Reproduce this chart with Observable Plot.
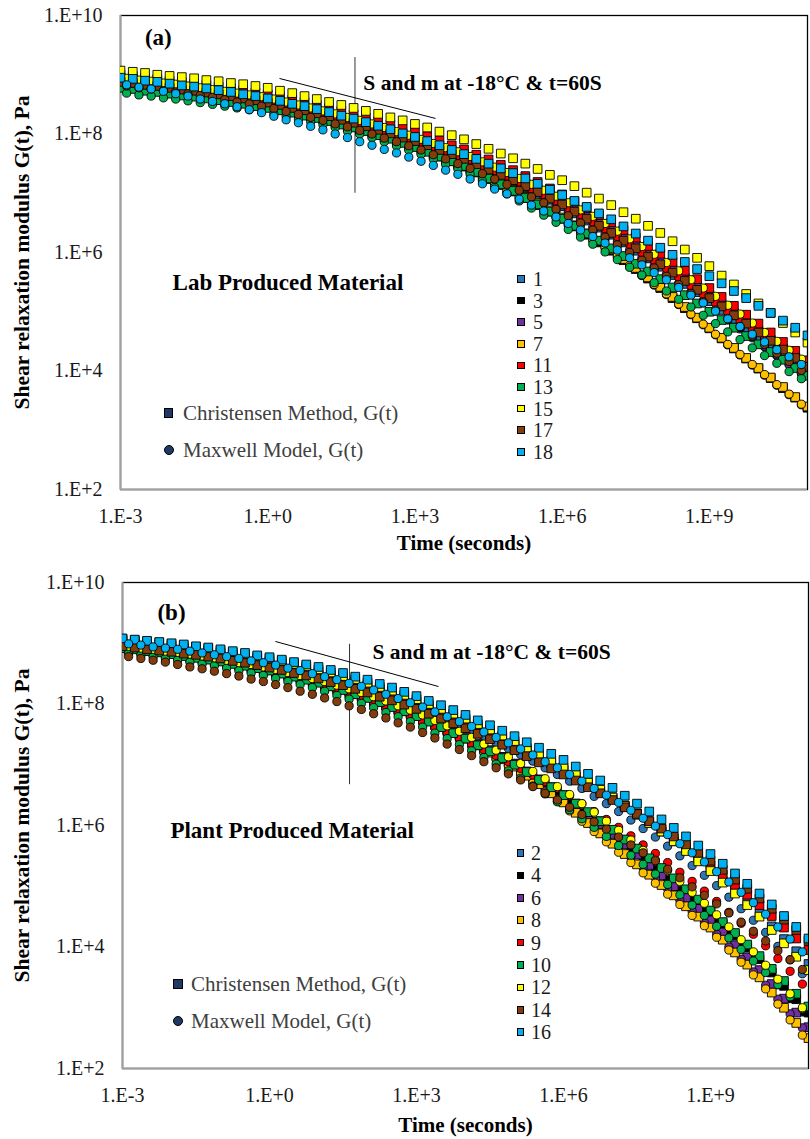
<!DOCTYPE html>
<html><head><meta charset="utf-8">
<script src="https://cdn.jsdelivr.net/npm/d3@7"></script>
<script src="https://cdn.jsdelivr.net/npm/@observablehq/plot@0.6"></script>
<style>
body{margin:0;background:#fff;}
#wrap{position:relative;width:810px;height:1139px;overflow:hidden;font-family:"Liberation Serif","Times New Roman",serif;background:#fff;}
.panel{position:absolute;left:0;}
.row{position:absolute;display:flex;align-items:center;white-space:nowrap;line-height:1;}
.sq{display:inline-block;box-sizing:border-box;border:1px solid #000;}
</style></head><body>
<div id="wrap"><div id="pa" class="panel" style="top:0px"></div><div id="pb" class="panel" style="top:567px"></div></div>
<script>
// ---------- axes ----------
const xTicks = [1e-3, 1e0, 1e3, 1e6, 1e9];
const xTickLabels = ["1.E-3", "1.E+0", "1.E+3", "1.E+6", "1.E+9"];
const yTicks = [1e2, 1e4, 1e6, 1e8, 1e10];
const yTickLabels = ["1.E+2", "1.E+4", "1.E+6", "1.E+8", "1.E+10"];
const xTitle = "Time (seconds)";
const yTitle = "Shear relaxation modulus G(t), Pa";
const methodNames = ["Christensen Method, G(t)", "Maxwell Model, G(t)"];

// ---------- time stamps (log10 seconds) ----------
const logTimeC = [-3,-2.75,-2.5,-2.25,-2,-1.75,-1.5,-1.25,-1,-0.75,-0.5,-0.25,0,0.25,0.5,0.75,1,1.25,1.5,1.75,2,2.25,2.5,2.75,3,3.25,3.5,3.75,4,4.25,4.5,4.75,5,5.25,5.5,5.75,6,6.25,6.5,6.75,7,7.25,7.5,7.75,8,8.25,8.5,8.75,9,9.25,9.5,9.75,10,10.25,10.5,10.75,11];
const logTimeM = [-2.875,-2.625,-2.375,-2.125,-1.875,-1.625,-1.375,-1.125,-0.875,-0.625,-0.375,-0.125,0.125,0.375,0.625,0.875,1.125,1.375,1.625,1.875,2.125,2.375,2.625,2.875,3.125,3.375,3.625,3.875,4.125,4.375,4.625,4.875,5.125,5.375,5.625,5.875,6.125,6.375,6.625,6.875,7.125,7.375,7.625,7.875,8.125,8.375,8.625,8.875,9.125,9.375,9.625,9.875,10.125,10.375,10.625,10.875];

// ---------- panel (a): log10 G(t), Christensen (C) and Maxwell (M) ----------
const a1C=[8.93,8.90,8.88,8.85,8.82,8.79,8.76,8.73,8.70,8.66,8.63,8.59,8.55,8.50,8.46,8.41,8.36,8.30,8.25,8.19,8.13,8.07,8.00,7.94,7.87,7.79,7.72,7.64,7.56,7.47,7.38,7.29,7.20,7.10,6.99,6.89,6.78,6.66,6.54,6.42,6.30,6.17,6.03,5.90,5.76,5.62,5.47,5.33,5.18,5.03,4.88,4.73,4.58,4.43,4.27,4.12,3.97];
const a1M=[8.85,8.82,8.79,8.76,8.72,8.69,8.65,8.62,8.58,8.54,8.50,8.46,8.41,8.36,8.31,8.26,8.20,8.14,8.08,8.02,7.96,7.89,7.82,7.75,7.68,7.60,7.53,7.45,7.37,7.28,7.19,7.10,7.00,6.90,6.79,6.69,6.58,6.46,6.35,6.23,6.11,5.98,5.85,5.72,5.58,5.44,5.29,5.15,5.01,4.86,4.71,4.56,4.41,4.26,4.11,3.96];
const a3C=[8.84,8.81,8.78,8.76,8.73,8.70,8.67,8.64,8.61,8.58,8.54,8.51,8.47,8.43,8.38,8.34,8.29,8.23,8.18,8.12,8.06,7.99,7.93,7.86,7.79,7.71,7.62,7.54,7.45,7.35,7.24,7.14,7.03,6.92,6.80,6.69,6.57,6.44,6.30,6.17,6.03,5.87,5.72,5.56,5.40,5.23,5.06,4.89,4.72,4.55,4.38,4.21,4.04,3.88,3.71,3.55,3.38];
const a3M=[8.79,8.76,8.73,8.70,8.68,8.65,8.62,8.59,8.55,8.52,8.48,8.45,8.41,8.36,8.32,8.27,8.22,8.16,8.11,8.05,7.99,7.92,7.85,7.78,7.71,7.62,7.53,7.44,7.35,7.24,7.14,7.03,6.92,6.81,6.70,6.59,6.46,6.33,6.20,6.07,5.92,5.76,5.61,5.45,5.29,5.12,4.95,4.78,4.61,4.44,4.27,4.10,3.93,3.76,3.60,3.43];
const a5C=[8.92,8.90,8.87,8.85,8.82,8.79,8.77,8.74,8.71,8.68,8.64,8.61,8.57,8.53,8.48,8.44,8.39,8.34,8.28,8.23,8.17,8.11,8.05,7.98,7.92,7.85,7.77,7.70,7.62,7.53,7.45,7.36,7.27,7.17,7.07,6.96,6.86,6.74,6.62,6.50,6.38,6.25,6.12,5.98,5.85,5.71,5.57,5.42,5.28,5.13,4.98,4.83,4.68,4.53,4.38,4.23,4.08];
const a5M=[8.85,8.82,8.80,8.77,8.75,8.72,8.69,8.66,8.62,8.59,8.55,8.52,8.48,8.43,8.38,8.33,8.28,8.22,8.17,8.11,8.05,7.98,7.92,7.85,7.78,7.71,7.63,7.56,7.48,7.39,7.30,7.21,7.11,7.00,6.90,6.79,6.68,6.56,6.43,6.31,6.18,6.04,5.91,5.77,5.63,5.48,5.33,5.18,5.03,4.88,4.73,4.58,4.42,4.27,4.11,3.96];
const a7C=[8.88,8.85,8.82,8.80,8.77,8.74,8.71,8.68,8.65,8.62,8.58,8.55,8.51,8.47,8.42,8.38,8.33,8.27,8.22,8.16,8.10,8.03,7.97,7.90,7.83,7.74,7.66,7.57,7.48,7.38,7.27,7.17,7.06,6.94,6.83,6.71,6.59,6.46,6.32,6.19,6.05,5.89,5.74,5.58,5.42,5.25,5.08,4.90,4.73,4.56,4.39,4.22,4.05,3.89,3.73,3.56,3.40];
const a7M=[8.84,8.81,8.78,8.75,8.73,8.70,8.67,8.64,8.60,8.57,8.53,8.50,8.46,8.41,8.37,8.32,8.27,8.21,8.16,8.10,8.03,7.96,7.89,7.82,7.74,7.65,7.56,7.47,7.37,7.26,7.16,7.05,6.94,6.83,6.72,6.61,6.48,6.35,6.22,6.09,5.94,5.78,5.62,5.46,5.30,5.13,4.96,4.79,4.62,4.45,4.28,4.11,3.94,3.77,3.61,3.44];
const a11C=[9.00,8.98,8.95,8.93,8.90,8.88,8.85,8.83,8.80,8.77,8.74,8.70,8.67,8.63,8.58,8.54,8.49,8.44,8.39,8.33,8.28,8.22,8.16,8.09,8.03,7.96,7.89,7.81,7.74,7.65,7.57,7.48,7.39,7.29,7.19,7.08,6.98,6.86,6.75,6.63,6.51,6.38,6.25,6.11,5.98,5.84,5.69,5.55,5.40,5.25,5.10,4.95,4.80,4.65,4.49,4.34,4.18];
const a11M=[8.89,8.86,8.84,8.81,8.79,8.76,8.73,8.70,8.67,8.64,8.60,8.57,8.53,8.48,8.44,8.39,8.34,8.29,8.23,8.18,8.12,8.06,7.99,7.93,7.86,7.79,7.71,7.64,7.56,7.47,7.38,7.29,7.19,7.08,6.98,6.87,6.76,6.64,6.52,6.40,6.27,6.14,6.00,5.87,5.73,5.58,5.44,5.29,5.15,5.00,4.85,4.70,4.54,4.39,4.23,4.08];
const a13C=[8.78,8.76,8.73,8.71,8.68,8.65,8.63,8.60,8.57,8.54,8.51,8.47,8.44,8.40,8.36,8.31,8.27,8.22,8.16,8.11,8.05,7.98,7.92,7.85,7.78,7.70,7.62,7.54,7.46,7.36,7.25,7.15,7.04,6.92,6.81,6.69,6.57,6.45,6.32,6.20,6.07,5.94,5.81,5.68,5.55,5.41,5.28,5.14,5.00,4.86,4.73,4.59,4.45,4.32,4.19,4.05,3.92];
const a13M=[8.69,8.66,8.64,8.61,8.59,8.56,8.53,8.50,8.47,8.44,8.41,8.38,8.34,8.30,8.25,8.21,8.16,8.11,8.05,8.00,7.94,7.87,7.80,7.73,7.66,7.58,7.49,7.41,7.32,7.21,7.10,6.99,6.87,6.75,6.63,6.51,6.39,6.26,6.14,6.01,5.88,5.75,5.62,5.49,5.35,5.21,5.08,4.94,4.80,4.66,4.53,4.39,4.26,4.13,3.99,3.87];
const a15C=[9.07,9.05,9.03,9.00,8.98,8.96,8.94,8.91,8.89,8.86,8.84,8.81,8.78,8.73,8.69,8.64,8.59,8.54,8.49,8.44,8.39,8.34,8.28,8.23,8.17,8.11,8.04,7.98,7.91,7.83,7.75,7.67,7.59,7.50,7.41,7.31,7.22,7.12,7.01,6.91,6.80,6.68,6.57,6.45,6.33,6.19,6.05,5.91,5.77,5.61,5.46,5.30,5.14,4.98,4.81,4.65,4.48];
const a15M=[8.94,8.91,8.89,8.86,8.84,8.81,8.78,8.75,8.72,8.69,8.66,8.63,8.59,8.54,8.49,8.44,8.39,8.34,8.28,8.23,8.17,8.11,8.04,7.98,7.91,7.84,7.77,7.70,7.62,7.53,7.44,7.35,7.25,7.15,7.05,6.95,6.84,6.72,6.61,6.49,6.36,6.23,6.10,5.97,5.83,5.69,5.54,5.40,5.26,5.11,4.96,4.81,4.65,4.50,4.35,4.20];
const a17C=[8.88,8.86,8.83,8.81,8.78,8.75,8.73,8.70,8.67,8.64,8.60,8.57,8.53,8.49,8.44,8.40,8.35,8.30,8.24,8.19,8.13,8.07,8.01,7.94,7.88,7.81,7.73,7.66,7.58,7.49,7.40,7.31,7.22,7.12,7.02,6.91,6.81,6.69,6.57,6.45,6.33,6.20,6.07,5.93,5.80,5.66,5.52,5.37,5.23,5.09,4.94,4.80,4.65,4.51,4.36,4.22,4.07];
const a17M=[8.81,8.78,8.76,8.73,8.71,8.68,8.65,8.62,8.58,8.54,8.51,8.47,8.43,8.38,8.33,8.28,8.23,8.17,8.12,8.06,8.00,7.93,7.87,7.80,7.73,7.65,7.58,7.50,7.42,7.33,7.24,7.15,7.05,6.94,6.84,6.73,6.62,6.50,6.38,6.26,6.13,6.00,5.87,5.74,5.60,5.46,5.31,5.17,5.03,4.88,4.74,4.59,4.45,4.30,4.16,4.01];
const a18C=[8.95,8.93,8.90,8.88,8.85,8.82,8.80,8.77,8.74,8.71,8.67,8.64,8.60,8.56,8.51,8.47,8.42,8.37,8.31,8.26,8.20,8.14,8.08,8.01,7.95,7.88,7.81,7.73,7.66,7.58,7.50,7.42,7.34,7.25,7.16,7.06,6.97,6.87,6.77,6.66,6.56,6.44,6.32,6.20,6.08,5.96,5.84,5.72,5.60,5.48,5.35,5.23,5.10,4.98,4.85,4.73,4.60];
const a18M=[8.83,8.79,8.76,8.72,8.68,8.64,8.59,8.55,8.51,8.46,8.41,8.36,8.30,8.24,8.19,8.13,8.07,8.00,7.94,7.87,7.81,7.74,7.68,7.61,7.54,7.47,7.39,7.32,7.24,7.16,7.07,6.99,6.90,6.80,6.70,6.60,6.49,6.38,6.27,6.16,6.04,5.91,5.79,5.66,5.54,5.41,5.28,5.15,5.01,4.88,4.75,4.62,4.49,4.36,4.24,4.11];

// ---------- panel (b) ----------
const b2C=[9.05,9.03,9.00,8.98,8.96,8.93,8.91,8.88,8.85,8.82,8.78,8.75,8.71,8.67,8.62,8.58,8.53,8.48,8.42,8.37,8.31,8.24,8.18,8.11,8.04,7.96,7.88,7.80,7.72,7.63,7.54,7.44,7.35,7.25,7.14,7.04,6.93,6.81,6.69,6.57,6.45,6.31,6.18,6.04,5.90,5.74,5.59,5.43,5.27,5.09,4.91,4.73,4.55,4.34,4.13,3.93,3.72];
const b2M=[8.97,8.94,8.92,8.89,8.87,8.84,8.81,8.78,8.75,8.71,8.68,8.64,8.60,8.55,8.51,8.46,8.41,8.35,8.30,8.24,8.18,8.11,8.04,7.97,7.89,7.81,7.72,7.64,7.55,7.46,7.36,7.27,7.17,7.06,6.95,6.84,6.73,6.61,6.48,6.36,6.23,6.09,5.95,5.81,5.66,5.50,5.34,5.18,5.01,4.82,4.63,4.44,4.24,4.01,3.79,3.56];
const b4C=[8.93,8.91,8.88,8.86,8.83,8.80,8.77,8.74,8.71,8.67,8.64,8.60,8.56,8.51,8.46,8.41,8.36,8.30,8.24,8.17,8.11,8.04,7.96,7.89,7.81,7.72,7.63,7.53,7.44,7.33,7.23,7.12,7.01,6.88,6.76,6.63,6.50,6.36,6.21,6.07,5.92,5.76,5.60,5.44,5.28,5.10,4.93,4.75,4.57,4.38,4.19,3.99,3.80,3.58,3.36,3.14,2.92];
const b4M=[8.86,8.83,8.81,8.78,8.76,8.73,8.70,8.67,8.63,8.59,8.56,8.52,8.48,8.43,8.38,8.33,8.27,8.21,8.14,8.08,8.01,7.94,7.86,7.79,7.70,7.61,7.52,7.43,7.33,7.22,7.11,7.00,6.88,6.75,6.62,6.49,6.36,6.21,6.07,5.92,5.77,5.61,5.44,5.28,5.11,4.93,4.76,4.58,4.39,4.20,4.00,3.81,3.60,3.38,3.15,2.93];
const b6C=[8.95,8.93,8.90,8.88,8.85,8.82,8.79,8.76,8.73,8.69,8.66,8.62,8.58,8.53,8.48,8.43,8.38,8.32,8.26,8.19,8.13,8.06,7.98,7.91,7.83,7.74,7.65,7.55,7.46,7.35,7.24,7.13,7.02,6.89,6.75,6.62,6.48,6.33,6.17,6.02,5.86,5.69,5.52,5.35,5.18,5.00,4.81,4.63,4.44,4.24,4.03,3.83,3.62,3.39,3.15,2.92,2.68];
const b6M=[8.89,8.86,8.84,8.81,8.79,8.76,8.73,8.70,8.66,8.62,8.58,8.54,8.50,8.45,8.40,8.35,8.29,8.22,8.16,8.09,8.02,7.94,7.87,7.79,7.70,7.61,7.51,7.42,7.31,7.20,7.09,6.98,6.85,6.71,6.58,6.44,6.29,6.13,5.98,5.82,5.65,5.48,5.31,5.14,4.96,4.77,4.59,4.40,4.21,4.00,3.80,3.59,3.37,3.14,2.90,2.67];
const b8C=[8.94,8.92,8.89,8.87,8.84,8.81,8.78,8.75,8.72,8.68,8.65,8.61,8.57,8.52,8.47,8.42,8.37,8.31,8.25,8.18,8.12,8.04,7.97,7.89,7.81,7.72,7.62,7.53,7.43,7.32,7.20,7.09,6.97,6.82,6.68,6.53,6.38,6.21,6.04,5.87,5.70,5.53,5.36,5.19,5.02,4.85,4.67,4.50,4.32,4.12,3.91,3.71,3.50,3.25,3.00,2.75,2.50];
const b8M=[8.89,8.86,8.84,8.81,8.79,8.76,8.73,8.70,8.66,8.62,8.59,8.55,8.51,8.46,8.41,8.36,8.30,8.24,8.17,8.11,8.04,7.96,7.89,7.81,7.72,7.62,7.53,7.43,7.32,7.21,7.09,6.98,6.85,6.70,6.55,6.40,6.24,6.07,5.90,5.73,5.56,5.39,5.22,5.05,4.87,4.70,4.52,4.35,4.16,3.95,3.75,3.54,3.31,3.06,2.80,2.55];
const b9C=[9.00,8.98,8.95,8.93,8.91,8.88,8.86,8.83,8.80,8.77,8.73,8.70,8.66,8.62,8.57,8.53,8.48,8.43,8.37,8.32,8.26,8.19,8.12,8.05,7.98,7.90,7.83,7.75,7.67,7.58,7.50,7.41,7.32,7.22,7.12,7.02,6.92,6.81,6.69,6.58,6.46,6.33,6.20,6.07,5.94,5.79,5.65,5.50,5.35,5.19,5.02,4.86,4.69,4.51,4.32,4.14,3.95];
const b9M=[8.87,8.84,8.81,8.78,8.75,8.72,8.69,8.66,8.62,8.58,8.54,8.50,8.46,8.41,8.36,8.31,8.25,8.19,8.12,8.06,7.99,7.92,7.85,7.78,7.70,7.61,7.53,7.44,7.35,7.25,7.15,7.05,6.94,6.83,6.72,6.61,6.49,6.36,6.23,6.10,5.97,5.83,5.68,5.54,5.39,5.23,5.08,4.92,4.75,4.57,4.39,4.21,4.02,3.81,3.60,3.39];
const b10C=[8.92,8.90,8.87,8.85,8.82,8.79,8.76,8.73,8.70,8.66,8.63,8.59,8.55,8.50,8.45,8.40,8.35,8.29,8.23,8.16,8.10,8.03,7.95,7.88,7.80,7.71,7.62,7.52,7.43,7.32,7.22,7.11,7.00,6.88,6.75,6.63,6.50,6.36,6.22,6.07,5.93,5.77,5.62,5.46,5.30,5.13,4.95,4.78,4.60,4.41,4.23,4.04,3.85,3.64,3.44,3.23,3.02];
const b10M=[8.84,8.81,8.78,8.75,8.72,8.69,8.66,8.63,8.59,8.55,8.51,8.47,8.42,8.37,8.32,8.27,8.21,8.14,8.08,8.01,7.94,7.86,7.79,7.71,7.62,7.52,7.43,7.33,7.23,7.12,7.01,6.90,6.78,6.65,6.52,6.39,6.26,6.11,5.97,5.82,5.67,5.51,5.36,5.20,5.03,4.86,4.69,4.52,4.34,4.15,3.96,3.77,3.58,3.38,3.18,2.98];
const b12C=[9.07,9.05,9.03,9.01,8.99,8.96,8.94,8.91,8.88,8.85,8.82,8.78,8.75,8.71,8.66,8.62,8.57,8.52,8.46,8.41,8.35,8.28,8.22,8.15,8.08,8.00,7.92,7.84,7.76,7.67,7.58,7.48,7.39,7.28,7.18,7.07,6.96,6.84,6.71,6.59,6.46,6.32,6.18,6.04,5.90,5.74,5.58,5.41,5.25,5.06,4.88,4.69,4.50,4.28,4.06,3.84,3.62];
const b12M=[8.95,8.92,8.90,8.87,8.85,8.82,8.79,8.76,8.72,8.68,8.65,8.61,8.57,8.52,8.47,8.42,8.37,8.31,8.25,8.19,8.12,8.05,7.97,7.90,7.82,7.73,7.64,7.55,7.45,7.34,7.24,7.13,7.02,6.89,6.77,6.64,6.51,6.36,6.22,6.07,5.92,5.76,5.59,5.43,5.26,5.08,4.90,4.72,4.53,4.33,4.12,3.92,3.70,3.47,3.23,3.00];
const b14C=[8.95,8.93,8.90,8.88,8.86,8.83,8.81,8.78,8.75,8.71,8.68,8.64,8.60,8.56,8.51,8.47,8.42,8.36,8.31,8.25,8.19,8.12,8.06,7.99,7.92,7.84,7.76,7.68,7.60,7.51,7.42,7.33,7.24,7.14,7.04,6.94,6.84,6.74,6.63,6.53,6.42,6.30,6.19,6.07,5.95,5.82,5.69,5.55,5.42,5.27,5.11,4.96,4.80,4.63,4.45,4.28,4.10];
const b14M=[8.78,8.75,8.72,8.69,8.65,8.61,8.58,8.54,8.50,8.46,8.41,8.37,8.32,8.27,8.21,8.16,8.10,8.04,7.97,7.91,7.84,7.77,7.69,7.62,7.53,7.44,7.34,7.25,7.15,7.05,6.95,6.85,6.75,6.64,6.53,6.42,6.30,6.18,6.06,5.94,5.81,5.68,5.55,5.42,5.28,5.14,4.99,4.85,4.71,4.56,4.41,4.26,4.10,3.94,3.79,3.63];
const b16C=[9.08,9.06,9.04,9.02,9.00,8.98,8.95,8.93,8.90,8.87,8.84,8.80,8.77,8.73,8.69,8.65,8.61,8.56,8.51,8.45,8.40,8.33,8.27,8.20,8.13,8.05,7.98,7.90,7.82,7.73,7.65,7.56,7.47,7.37,7.28,7.18,7.08,6.97,6.85,6.74,6.62,6.49,6.36,6.23,6.10,5.96,5.82,5.67,5.53,5.37,5.21,5.04,4.88,4.70,4.51,4.33,4.14];
const b16M=[8.99,8.97,8.94,8.92,8.90,8.87,8.84,8.81,8.78,8.75,8.71,8.68,8.64,8.59,8.55,8.50,8.45,8.40,8.34,8.29,8.23,8.16,8.09,8.02,7.95,7.87,7.79,7.71,7.63,7.54,7.45,7.36,7.26,7.16,7.05,6.95,6.84,6.73,6.61,6.50,6.38,6.25,6.12,5.99,5.85,5.70,5.55,5.40,5.24,5.07,4.90,4.73,4.54,4.33,4.13,3.92];

// ---------- series lists ----------
const samplesA = ["1","3","5","7","11","13","15","17","18"];
const samplesB = ["2","4","6","8","9","10","12","14","16"];
const colorsA = ["#2E75B6","#000000","#7030A0","#FFC000","#FF0000","#00B050","#FFFF00","#843C0C","#00B0F0"];
const colorsB = ["#2E75B6","#000000","#7030A0","#FFC000","#FF0000","#00B050","#FFFF00","#843C0C","#00B0F0"];
const christensenA = [a1C,a3C,a5C,a7C,a11C,a13C,a15C,a17C,a18C];
const maxwellA = [a1M,a3M,a5M,a7M,a11M,a13M,a15M,a17M,a18M];
const christensenB = [b2C,b4C,b6C,b8C,b9C,b10C,b12C,b14C,b16C];
const maxwellB = [b2M,b4M,b6M,b8M,b9M,b10M,b12M,b14M,b16M];

// ---------- annotations (data coordinates: t in s, G in Pa) ----------
const guideA = {vline:[{t:60, g1:1.0e7, g2:1.95e9}], slope:[{t1:1.74, g1:8.65e8, t2:2630, g2:1.83e8}]};
const guideB = {vline:[{t:43, g1:4.7e6, g2:9.6e8}], slope:[{t1:1.32, g1:1.07e9, t2:2810, g2:1.94e8}]};
const notesA = {tag:[{t:5.9e-3, g:4.3e9, label:"(a)"}], sm:[{t:89, g:7.1e8, label:"S and m at -18°C & t=60S"}], mat:[{t:0.0115, g:3.1e5, label:"Lab Produced Material"}]};
const notesB = {tag:[{t:1.0e-2, g:3.2e9, label:"(b)"}], sm:[{t:126, g:7.05e8, label:"S and m at -18°C & t=60S"}], mat:[{t:9.5e-3, g:8.3e5, label:"Plant Produced Material"}]};

const toRows = (lt, lg) => lt.map((v, i) => ({t: Math.pow(10, v), g: Math.pow(10, lg[i])}));

function buildPanel(cfg) {
  const marks = [
    Plot.frame({stroke: "#000", strokeWidth: 1.3}),
    Plot.ruleX([1e-3], {stroke: "#a0a0a0", strokeWidth: 2}),
    Plot.ruleY([1e2], {stroke: "#a0a0a0", strokeWidth: 2}),
    Plot.axisX({ticks: xTicks, tickFormat: d => xTickLabels[xTicks.indexOf(d)], tickSize: 0, tickPadding: 19, fontSize: 20, label: null}),
    Plot.axisY({ticks: yTicks, tickFormat: d => yTickLabels[yTicks.indexOf(d)], tickSize: 0, tickPadding: 18, fontSize: 20, label: null}),
    Plot.text([xTitle], {frameAnchor: "bottom", dy: cfg.xTitleDy, text: d => d, textAnchor: "middle", lineAnchor: "middle", fontWeight: "bold", fontSize: 21, fill: "#000"}),
    Plot.text([yTitle], {frameAnchor: "left", dx: cfg.yTitleDx, rotate: -90, text: d => d, textAnchor: "middle", lineAnchor: "middle", fontWeight: "bold", fontSize: 21.5, fill: "#000"}),
    Plot.ruleX(cfg.guide.vline, {x: "t", y1: "g1", y2: "g2", stroke: "#333", strokeWidth: 1}),
    Plot.link(cfg.guide.slope, {x1: "t1", y1: "g1", x2: "t2", y2: "g2", stroke: "#000", strokeWidth: 1})
  ];
  cfg.samples.forEach((s, k) => {
    const col = cfg.colors[k];
    marks.push(Plot.dot(toRows(logTimeC, cfg.C[k]), {x: "t", y: "g", symbol: "square", r: 4.9, fill: col, stroke: "#000", strokeWidth: 0.9, clip: true}));
    marks.push(Plot.dot(toRows(logTimeM, cfg.M[k]), {x: "t", y: "g", symbol: "circle", r: 4.1, fill: col, stroke: "#000", strokeWidth: 0.9, clip: true}));
  });
  marks.push(
    Plot.text(cfg.notes.tag, {x: "t", y: "g", text: "label", fontWeight: "bold", fontSize: 23, fill: "#000"}),
    Plot.text(cfg.notes.sm, {x: "t", y: "g", text: "label", textAnchor: "start", fontWeight: "bold", fontSize: 21.5, fill: "#000"}),
    Plot.text(cfg.notes.mat, {x: "t", y: "g", text: "label", textAnchor: "start", fontWeight: "bold", fontSize: 23, fill: "#000"})
  );
  return Plot.plot({
    width: 810, height: cfg.height,
    marginTop: 15, marginBottom: cfg.mb, marginLeft: cfg.ml, marginRight: cfg.mr,
    x: {type: "log", domain: [1e-3, 1e11]},
    y: {type: "log", domain: [1e2, 1e10]},
    style: {fontFamily: '"Liberation Serif","Times New Roman",serif', color: "#1a1a1a", background: "#fff", overflow: "visible"},
    marks
  });
}

document.getElementById("pa").appendChild(buildPanel({
  height: 572, mb: 83, ml: 120, mr: 3, xTitleDy: 54, yTitleDx: -98,
  samples: samplesA, colors: colorsA, C: christensenA, M: maxwellA, guide: guideA, notes: notesA
}));
document.getElementById("pb").appendChild(buildPanel({
  height: 572, mb: 71, ml: 122, mr: 2, xTitleDy: 57, yTitleDx: -100,
  samples: samplesB, colors: colorsB, C: christensenB, M: maxwellB, guide: guideB, notes: notesB
}));

// ---------- legends (HTML) ----------
const wrap = document.getElementById("wrap");
function row(cx, cy, size, shape, color, textX, text, fontSize, textColor) {
  const r = document.createElement("div");
  r.className = "row";
  r.style.left = (cx - size / 2) + "px";
  r.style.top = (cy - 12) + "px";
  r.style.height = "24px";
  const m = document.createElement("span");
  m.className = "sq";
  m.style.width = size + "px"; m.style.height = size + "px";
  m.style.background = color;
  if (shape === "circle") m.style.borderRadius = "50%";
  const t = document.createElement("span");
  t.textContent = text;
  t.style.fontSize = fontSize + "px";
  t.style.color = textColor;
  t.style.marginLeft = (textX - (cx + size / 2)) + "px";
  r.appendChild(m); r.appendChild(t);
  wrap.appendChild(r);
}
function numberLegend(samples, colors, cx, textX, y0, step) {
  samples.forEach((s, i) => row(cx, y0 + i * step, 7.5, "square", colors[i], textX, s, 20, "#1a1a1a"));
}
numberLegend(samplesA, colorsA, 521, 533, 279, 21.6);
numberLegend(samplesB, colorsB, 520.5, 531, 853, 22.4);
const methodColor = "#1F3864";
row(168.5, 413, 9.5, "square", methodColor, 183, methodNames[0], 21, "#404040");
row(168.5, 450, 10, "circle", methodColor, 183, methodNames[1], 21, "#404040");
row(178, 984, 9.5, "square", methodColor, 191, methodNames[0], 21, "#404040");
row(178, 1021, 10, "circle", methodColor, 191, methodNames[1], 21, "#404040");
</script>
</body></html>
